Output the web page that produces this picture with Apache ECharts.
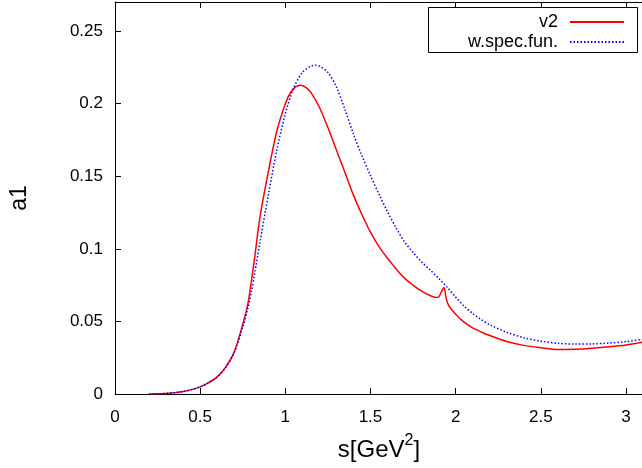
<!DOCTYPE html>
<html>
<head>
<meta charset="utf-8">
<script src="https://cdn.jsdelivr.net/npm/echarts@6/dist/echarts.min.js"></script>
<style>html,body{margin:0;padding:0;background:#fff}#c{width:642px;height:468px}</style>
</head>
<body>
<div id="c"></div>
<script>
const sV2 = [0.2,0.25,0.3,0.35,0.4,0.45,0.5,0.55,0.6,0.65,0.7,0.75,0.78,0.8,0.82,0.85,0.9,0.95,1.0,1.03,1.06,1.09,1.12,1.15,1.2,1.25,1.3,1.35,1.4,1.45,1.5,1.55,1.6,1.65,1.7,1.75,1.8,1.85,1.886,1.9,1.915,1.931,1.945,1.96,2.0,2.05,2.1,2.15,2.2,2.3,2.4,2.5,2.6,2.7,2.8,2.9,3.0,3.1];
const v2 = [0,0.0001,0.0004,0.0009,0.0017,0.003,0.0049,0.0078,0.0118,0.0185,0.029,0.048,0.062,0.077,0.094,0.121,0.153,0.181,0.2,0.2075,0.2115,0.2127,0.2112,0.2078,0.1975,0.1835,0.168,0.1525,0.137,0.1235,0.1115,0.1015,0.0935,0.0863,0.0798,0.075,0.0708,0.0678,0.0665,0.0668,0.07,0.0733,0.0655,0.0607,0.055,0.0495,0.0455,0.0427,0.0403,0.0362,0.0335,0.0319,0.0307,0.0308,0.0315,0.0325,0.0338,0.0358];
const sSpec = [0.2,0.25,0.3,0.35,0.4,0.45,0.5,0.55,0.6,0.65,0.7,0.75,0.78,0.8,0.82,0.85,0.9,0.95,1.0,1.05,1.1,1.15,1.18,1.2,1.25,1.3,1.35,1.4,1.45,1.5,1.55,1.6,1.65,1.7,1.75,1.8,1.85,1.9,1.95,2.0,2.05,2.1,2.15,2.2,2.3,2.4,2.5,2.6,2.7,2.8,2.9,3.0,3.1];
const spec = [0,0.0001,0.0004,0.0009,0.0017,0.003,0.0049,0.0078,0.0118,0.0183,0.0285,0.046,0.059,0.07,0.083,0.104,0.137,0.168,0.193,0.211,0.2215,0.2258,0.2265,0.2258,0.2215,0.2115,0.196,0.179,0.164,0.1505,0.1375,0.1255,0.1145,0.1048,0.0975,0.091,0.0855,0.0797,0.0735,0.0668,0.0605,0.0555,0.0513,0.0477,0.0425,0.0388,0.0364,0.0349,0.0344,0.0345,0.0351,0.0361,0.0377];
const xTicks = [0,0.5,1,1.5,2,2.5,3];
const yTicks = [0,0.05,0.1,0.15,0.2,0.25];
const seriesNames = ['v2','w.spec.fun.'];

const FF = '"Liberation Sans", Arial, Helvetica, sans-serif';
const chart = echarts.init(document.getElementById('c'), null, {renderer:'canvas'});
const axisLine = {show:true, onZero:false, lineStyle:{color:'#000', width:1}};
const legendBase = {orient:'horizontal', align:'right', right:17, itemWidth:54, itemHeight:14, padding:0,
  itemStyle:{color:'rgba(0,0,0,0)', borderWidth:0, opacity:0},
  textStyle:{fontSize:18, fontFamily:FF, color:'#000', padding:[0,7,0,0]}};
chart.setOption({
  animation:false,
  backgroundColor:'#fff',
  grid:{left:115, top:2, right:-1, bottom:74, outerBoundsMode:'none', containLabel:false},
  legend:[
    Object.assign({data:[seriesNames[0]], top:13}, legendBase),
    Object.assign({data:[seriesNames[1]], top:33}, legendBase)
  ],
  xAxis:[{
    type:'value', min:0, max:3.1, position:'bottom',
    axisLine:axisLine,
    axisTick:{show:true, inside:true, length:6, customValues:xTicks, lineStyle:{color:'#000'}},
    axisLabel:{customValues:xTicks, fontSize:17, fontFamily:FF, color:'#000', margin:15},
    splitLine:{show:false},
    name:'{a|s[GeV}{b|2}{a|]}', nameLocation:'middle', nameGap:39,
    nameTextStyle:{rich:{a:{fontSize:24, fontFamily:FF, color:'#000', lineHeight:34},
                          b:{fontSize:16, fontFamily:FF, color:'#000', verticalAlign:'top', lineHeight:16}}}
  },{
    type:'value', min:0, max:3.1, position:'top',
    axisLine:axisLine,
    axisTick:{show:true, inside:true, length:6, customValues:xTicks, lineStyle:{color:'#000'}},
    axisLabel:{show:false}, splitLine:{show:false}
  }],
  yAxis:[{
    type:'value', min:0, max:0.27, position:'left',
    axisLine:axisLine,
    axisTick:{show:true, inside:true, length:6, customValues:yTicks, lineStyle:{color:'#000'}},
    axisLabel:{customValues:yTicks, fontSize:17, fontFamily:FF, color:'#000', margin:12},
    splitLine:{show:false},
    name:'a1', nameLocation:'middle', nameGap:84, nameRotate:90,
    nameTextStyle:{fontSize:23, fontFamily:FF, color:'#000'}
  }],
  graphic:[{type:'rect', shape:{x:428.5, y:7.5, width:209, height:45},
            style:{fill:'none', stroke:'#000', lineWidth:1}, z:100}],
  series:[{
    name:seriesNames[0], type:'line', data:sV2.map((x,i)=>[x,v2[i]]),
    symbol:'none', showSymbol:false, smooth:0.3, clip:true,
    lineStyle:{color:'#ff0000', width:1.5}, itemStyle:{color:'#ff0000'}
  },{
    name:seriesNames[1], type:'line', data:sSpec.map((x,i)=>[x,spec[i]]),
    symbol:'none', showSymbol:false, smooth:0.3, clip:true,
    lineStyle:{color:'#0000ff', width:1.5, type:[1.5,2]}, itemStyle:{color:'#0000ff'}
  }]
});
</script>
</body>
</html>
